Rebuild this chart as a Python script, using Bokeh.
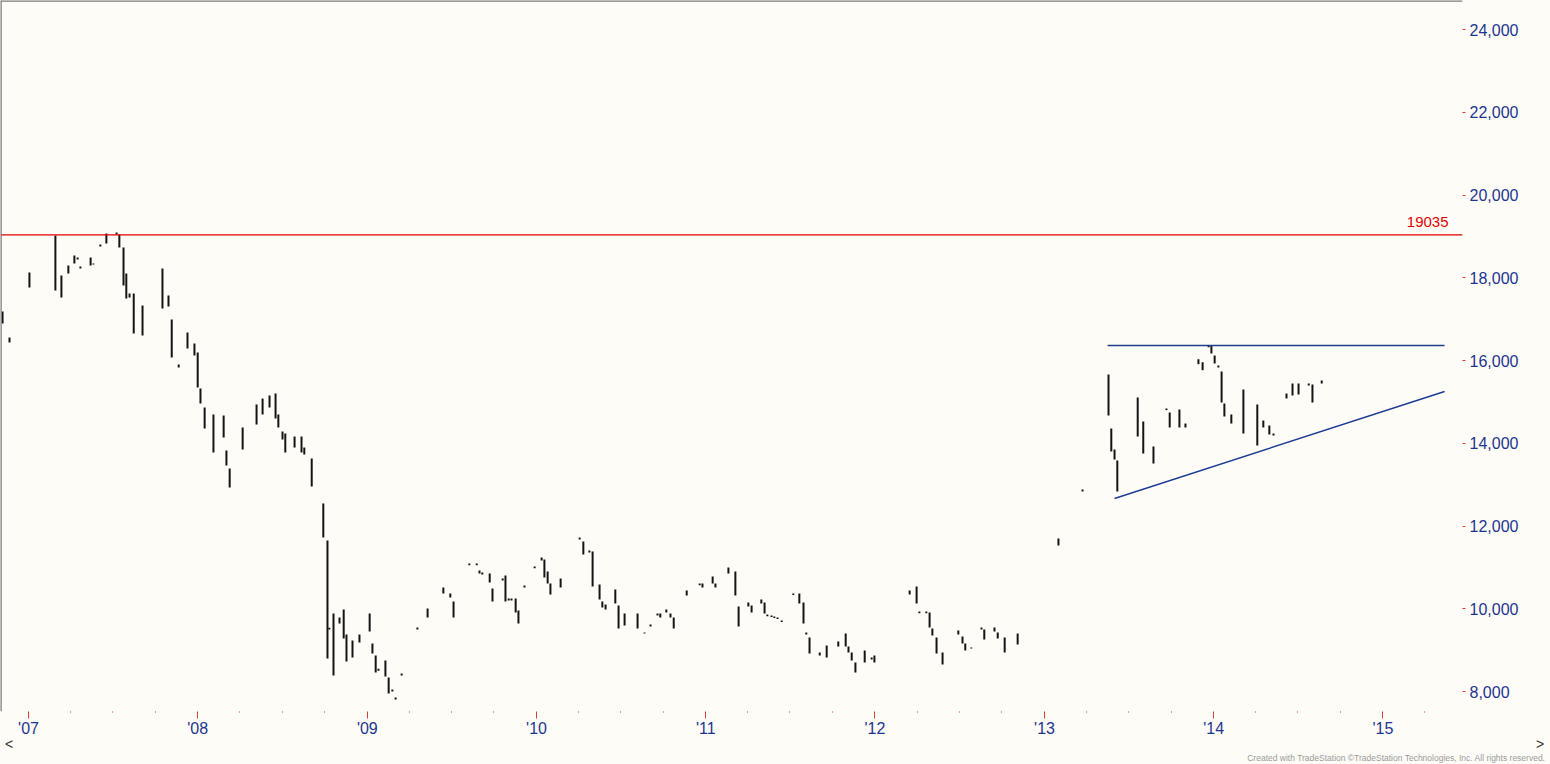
from datetime import datetime
from bokeh.plotting import figure
from bokeh.layouts import column
from bokeh.models import (Range1d, Span, Label, FixedTicker, DatetimeTickFormatter,
                          NumeralTickFormatter, ColumnDataSource, Div)
from bokeh.embed import file_html
from bokeh.resources import INLINE

# ---------------- data (weekly bars) ----------------
dates = [
"2006-11-06","2006-11-21","2007-01-03","2007-02-28","2007-03-13","2007-03-28","2007-04-10","2007-04-17","2007-04-23","2007-05-15",
"2007-05-21","2007-06-05","2007-06-18","2007-07-10","2007-07-16","2007-07-25","2007-07-31","2007-08-07","2007-08-16","2007-09-04",
"2007-10-17","2007-10-30","2007-11-06","2007-11-21","2007-12-10","2007-12-25","2008-01-01","2008-01-07","2008-01-16","2008-02-04",
"2008-02-26","2008-03-03","2008-03-10","2008-04-07","2008-05-07","2008-05-20","2008-06-04","2008-06-17","2008-06-23","2008-07-02",
"2008-07-08","2008-07-28","2008-08-12","2008-08-18","2008-09-03","2008-09-28","2008-10-07","2008-10-11","2008-10-20","2008-11-02",
"2008-11-11","2008-11-17","2008-11-30","2008-12-15","2009-01-06","2009-01-12","2009-01-19","2009-01-25","2009-02-09","2009-02-16",
"2009-02-24","2009-03-03","2009-03-16","2009-04-19","2009-05-11","2009-06-14","2009-06-29","2009-07-06","2009-08-09","2009-08-25",
"2009-08-31","2009-09-06","2009-09-22","2009-09-28","2009-10-20","2009-10-26","2009-11-02","2009-11-08","2009-11-17","2009-11-23",
"2009-12-06","2009-12-28","2010-01-12","2010-01-18","2010-01-25","2010-01-31","2010-02-22","2010-04-04","2010-04-12","2010-04-25",
"2010-05-02","2010-05-17","2010-05-23","2010-05-30","2010-06-20","2010-06-27","2010-07-10","2010-08-07","2010-08-22","2010-09-04",
"2010-09-19","2010-09-25","2010-10-08","2010-10-17","2010-10-24","2010-11-21","2010-12-19","2010-12-25","2011-01-16","2011-01-22",
"2011-02-19","2011-03-06","2011-03-13","2011-04-03","2011-04-10","2011-05-01","2011-05-08","2011-05-14","2011-05-23","2011-05-29",
"2011-06-05","2011-06-14","2011-07-09","2011-07-22","2011-07-31","2011-08-06","2011-08-13","2011-09-04","2011-09-19","2011-10-14",
"2011-10-30","2011-11-05","2011-11-12","2011-11-20","2011-12-10","2011-12-25","2011-12-31","2012-03-16","2012-03-31","2012-04-06",
"2012-04-21","2012-04-28","2012-05-04","2012-05-13","2012-05-26","2012-06-29","2012-07-08","2012-07-14","2012-07-27","2012-08-18",
"2012-08-24","2012-09-15","2012-09-22","2012-10-07","2012-11-04","2013-01-31","2013-03-24","2013-05-19","2013-05-25","2013-06-01",
"2013-06-07","2013-07-21","2013-08-02","2013-08-24","2013-09-21","2013-09-28","2013-10-19","2013-11-01","2013-11-29","2013-12-08",
"2013-12-21","2013-12-27","2014-01-03","2014-01-11","2014-01-18","2014-01-24","2014-02-08","2014-03-06","2014-04-05","2014-04-18",
"2014-05-01","2014-05-10","2014-06-07","2014-06-20","2014-07-03","2014-07-25","2014-08-02","2014-08-22"]

highs = [
17184,16556,18127,19021,18055,18296,18538,18490,18272,18490,
18345,18804,19070,19094,19046,18731,18103,17620,17620,17330,
18224,17571,16991,15903,16677,16411,16194,15323,14864,14695,
14671,13825,13390,14381,14937,15080,15155,15203,14695,14284,
14236,14163,14163,13897,13632,12545,11650,9543,9887,9790,
9983,9379,9234,9379,9887,9161,8871,8552,8750,8338,
8048,7855,8435,9548,10006,10514,10369,10176,11094,11094,
10925,10877,10852,10490,10732,10804,10248,10248,10248,9958,
10563,11022,11239,11191,10901,10611,10732,11723,11626,11408,
11384,10587,10176,10103,10466,10079,9887,9887,9426,9620,
9887,9887,9983,9887,9789,10441,10611,10611,10780,10611,
10997,10901,10055,10151,10079,10224,10151,9862,9838,9813,
9789,9717,10369,10369,10151,9426,9306,8943,9113,9209,
9402,9088,8943,8701,8991,8822,8871,10441,10538,9934,
9934,9910,9523,9306,8943,9475,9330,9161,9064,9547,
9499,9547,9426,9306,9402,11698,12883,15662,14357,13849,
13583,15106,14526,13922,14840,14744,14816,14477,16031,15958,
16363,16363,16121,15880,15734,14961,14695,15299,14937,14550,
14429,14236,15203,15444,15444,15444,15420,15517]

lows = [
16894,16435,17765,17692,17523,18103,18345,18441,18224,18296,
18320,18755,18828,19046,18731,17813,17499,17523,16653,16605,
17257,17305,16073,15831,16290,16121,15348,14961,14357,13777,
14139,13462,12931,13849,14453,14695,14864,14599,14381,14091,
13777,13897,13777,13728,12955,11723,8798,9500,8387,9645,
9282,8726,8822,9185,9452,8919,8460,8500,8363,7952,
8000,7807,8390,9500,9789,10369,10273,9789,11050,11050,
10853,10828,10635,10176,10683,10176,10200,10200,9909,9644,
10514,10980,11167,10756,10611,10345,10514,11674,11312,11360,
10538,10224,10031,9982,10127,9523,9596,9523,9402,9570,
9840,9789,9910,9789,9523,10321,10570,10514,10611,10514,
10852,10321,9571,10055,9909,10127,9887,9820,9800,9775,
9750,9680,10330,10127,9644,9378,8919,8871,8823,9088,
9088,8943,8749,8459,8701,8774,8701,10345,10127,9890,
9890,9547,9354,8919,8653,9378,9161,8991,9040,9499,
9257,9451,9282,8943,9137,11529,12834,14671,13801,13607,
12834,14163,13752,13510,14800,14381,14381,14381,15911,15766,
16320,16170,15928,15831,14985,14647,14477,14236,13946,14381,
14212,14190,15082,15155,15179,15396,14985,15444]

# horizontal level and triangle lines
level_value = 19035
resist_dates = ["2013-05-17", "2015-05-14"]
resist_prices = [16363, 16363]
support_dates = ["2013-06-01", "2015-05-14"]
support_prices = [12665, 15251]

y_ticks = [8000, 10000, 12000, 14000, 16000, 18000, 20000, 22000, 24000]
year_ticks = [2007, 2008, 2009, 2010, 2011, 2012, 2013, 2014, 2015]
quarter_months = [4, 7, 10]

credit_text = "Created with TradeStation \u00a9TradeStation Technologies, Inc. All rights reserved."

# ---------------- styling ----------------
BG = "#fefcf6"
AX_BLUE = "#1d3590"
TICK_RED = "#e03a3a"
FONT = "Liberation Sans"

def to_dt(s):
    return datetime.strptime(s, "%Y-%m-%d")

src = ColumnDataSource(dict(date=[to_dt(d) for d in dates], high=highs, low=lows))

x_start = datetime(2006, 11, 1, 14)
x_end = datetime(2015, 6, 21, 17)
y_start, y_end = 7517, 24701

p = figure(frame_width=1462, frame_height=711, x_axis_type="datetime",
           y_axis_location="right",
           x_range=Range1d(x_start, x_end), y_range=Range1d(y_start, y_end),
           toolbar_location=None, output_backend="svg",
           min_border_left=0, min_border_top=0, min_border_right=88, min_border_bottom=28,
           background_fill_color=BG, border_fill_color=BG)
p.grid.visible = False
p.outline_line_color = None

# bars
p.segment(x0="date", y0="low", x1="date", y1="high", source=src,
          line_width=2, line_color="#141414")

# red level
p.add_layout(Span(location=level_value, dimension="width", line_color="#e00000", line_width=1.2))
p.add_layout(Label(x=1448, x_units="screen", y=level_value, y_units="data", text=str(level_value),
                   text_align="right", text_baseline="bottom", y_offset=8,
                   text_color="#e00000", text_font=FONT, text_font_size="15px"))

# triangle lines
p.line([to_dt(d) for d in resist_dates], resist_prices, line_color="#1f3f8f", line_width=1.4)
p.line([to_dt(d) for d in support_dates], support_prices, line_color="#1a3a94", line_width=1.4)

# frame borders (left / top)
p.add_layout(Span(location=x_start, dimension="height", line_color="#7d7d7d", line_width=2.5))
p.add_layout(Span(location=y_end, dimension="width", line_color="#7d7d7d", line_width=2.5))

# y axis (right)
ya = p.yaxis[0]
ya.ticker = FixedTicker(ticks=y_ticks)
ya.formatter = NumeralTickFormatter(format="0,0")
ya.axis_line_color = None
ya.major_tick_line_color = TICK_RED
ya.major_tick_out = 3
ya.major_tick_in = 0
ya.minor_tick_line_color = None
ya.major_label_standoff = 4
ya.major_label_text_font = FONT
ya.major_label_text_font_size = "16px"
ya.major_label_text_color = AX_BLUE

# x axis
major_x = [datetime(y, 1, 1).timestamp() * 1000 for y in year_ticks]
minor_x = [datetime(y, m, 1).timestamp() * 1000 for y in [2006] + year_ticks for m in quarter_months]
xa = p.xaxis[0]
xa.ticker = FixedTicker(ticks=major_x, minor_ticks=minor_x)
fmt = "'%y"
xa.formatter = DatetimeTickFormatter(years=fmt, months=fmt, days=fmt, hours=fmt, minutes=fmt,
                                     hourmin=fmt, seconds=fmt, minsec=fmt, milliseconds=fmt,
                                     microseconds=fmt)
xa.axis_line_color = None
xa.major_tick_line_color = TICK_RED
xa.major_tick_out = 7
xa.major_tick_in = 0
xa.minor_tick_line_color = TICK_RED
xa.minor_tick_out = 1
xa.minor_tick_in = 0
xa.major_label_standoff = 1
xa.major_label_text_font = FONT
xa.major_label_text_font_size = "16px"
xa.major_label_text_color = AX_BLUE

# scroll arrows and credit line, in a strip under the chart
strip_html = (
    "<div style=\"position:relative;width:1550px;height:25px;font-family:'Liberation Sans',Arial,sans-serif;\">"
    "<span style=\"position:absolute;left:5px;top:-2px;font-size:14px;line-height:14px;color:#333333;\">&lt;</span>"
    "<span style=\"position:absolute;left:1536px;top:-2px;font-size:14px;line-height:14px;color:#333333;\">&gt;</span>"
    "<span style=\"position:absolute;right:5px;top:15px;font-size:8.5px;line-height:9px;color:#9a9a9a;white-space:nowrap;\">"
    + credit_text + "</span></div>"
)
strip = Div(text=strip_html, width=1550, height=25,
            styles={"background-color": BG, "margin": "0", "padding": "0", "overflow": "visible"})

layout = column(p, strip, spacing=0)
layout.styles = {"background-color": BG}

open("out.html", "w").write(file_html(layout, INLINE))
